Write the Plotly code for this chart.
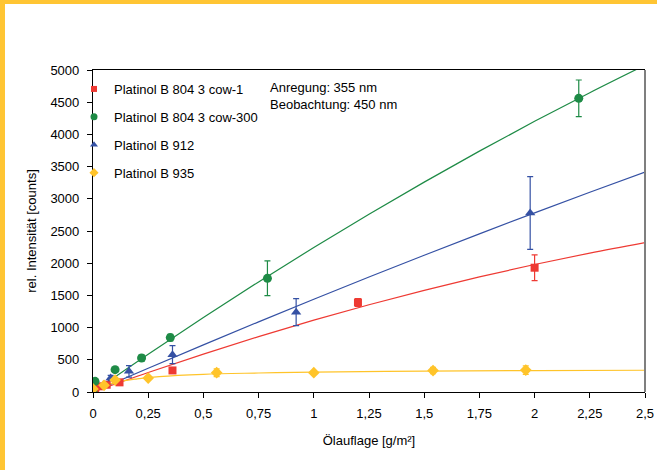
import plotly.graph_objects as go

# ---------------- data ----------------
series_names = ["Platinol B 804 3 cow-1", "Platinol B 804 3 cow-300",
                "Platinol B 912", "Platinol B 935"]

red_x = [0.01, 0.027, 0.062, 0.12, 0.36, 1.2, 2.0]
red_y = [30, 88, 113, 150, 335, 1390, 1930]
red_err = [10, 10, 15, 15, 20, 60, 200]

green_x = [0.0, 0.009, 0.1, 0.22, 0.35, 0.79, 2.2]
green_y = [10, 166, 347, 528, 845, 1765, 4560]
green_err = [10, 15, 25, 45, 50, 270, 285]

blue_x = [0.0, 0.08, 0.163, 0.36, 0.92, 1.98]
blue_y = [5, 217, 321, 580, 1240, 2780]
blue_err = [10, 40, 90, 140, 210, 565]

yellow_x = [0.0, 0.05, 0.1, 0.25, 0.56, 1.0, 1.54, 1.96]
yellow_y = [47, 104, 185, 217, 300, 300, 333, 340]
yellow_err = [10, 10, 15, 15, 60, 25, 50, 65]

# trend curves
fit_x = [0, 0.25, 0.5, 0.75, 1.0, 1.25, 1.5, 1.75, 2.0, 2.25, 2.5]
red_fit = [0, 302, 589, 860, 1115, 1355, 1579, 1787, 1980, 2157, 2319]
green_fit = [0, 588, 1158, 1710, 2244, 2760, 3259, 3740, 4203, 4648, 5075]
blue_fit = [0, 369, 732, 1089, 1440, 1785, 2123, 2456, 2782, 3102, 3416]
yfit_x = [0, 0.05, 0.1, 0.2, 0.3, 0.5, 0.75, 1.0, 1.5, 2.0, 2.5]
yellow_fit = [20, 90, 150, 205, 240, 275, 295, 310, 325, 333, 338]

x_ticks = [0, 0.25, 0.5, 0.75, 1.0, 1.25, 1.5, 1.75, 2.0, 2.25, 2.5]
x_ticktext = ["0", "0,25", "0,5", "0,75", "1", "1,25", "1,5", "1,75", "2", "2,25", "2,5"]
y_ticks = [0, 500, 1000, 1500, 2000, 2500, 3000, 3500, 4000, 4500, 5000]

# ---------------- styles ----------------
RED = "#EE3A33"
GREEN = "#1E8B46"
BLUE = "#3551A4"
YELLOW = "#FFC42A"
FONT = "Liberation Sans, Arial, sans-serif"
FS = 13

W, H = 657, 470
L, R, T, B = 93, 12, 70, 78
PW, PH = W - L - R, H - T - B


def px_x(p):
    return (p - L) / PW


def px_y(p):
    return (H - B - p) / PH


fig = go.Figure()

# trend lines
for fx, fy, col in [(fit_x, green_fit, GREEN), (fit_x, blue_fit, BLUE),
                    (fit_x, red_fit, RED), (yfit_x, yellow_fit, YELLOW)]:
    fig.add_trace(go.Scatter(x=fx, y=fy, mode="lines", line=dict(color=col, width=1.2, shape="spline"),
                             showlegend=False, hoverinfo="skip"))

specs = [
    (red_x, red_y, red_err, RED, "square", 8, 6),
    (green_x, green_y, green_err, GREEN, "circle", 9, 7),
    (blue_x, blue_y, blue_err, BLUE, "triangle-up", 9, 7),
    (yellow_x, yellow_y, yellow_err, YELLOW, "diamond", 9, 7),
]
for i, (xs, ys, es, col, sym, sz, lsz) in enumerate(specs):
    fig.add_trace(go.Scatter(
        x=xs, y=ys, mode="markers", name=series_names[i], showlegend=False,
        marker=dict(color=col, symbol=sym, size=sz, line=dict(width=0)),
        error_y=dict(type="data", array=es, color=col, thickness=1.2, width=3),
    ))
    # legend entry with a smaller symbol
    fig.add_trace(go.Scatter(
        x=[None], y=[None], mode="markers", name=series_names[i], legendgroup=series_names[i],
        marker=dict(color=col, symbol=sym, size=lsz, line=dict(width=0)),
    ))

shapes = [
    # yellow frame strips
    dict(type="rect", xref="paper", yref="paper", x0=px_x(0), x1=px_x(5), y0=px_y(H), y1=px_y(0),
         fillcolor="#FFC533", line=dict(width=0), layer="above"),
    dict(type="rect", xref="paper", yref="paper", x0=px_x(0), x1=px_x(W + 20), y0=px_y(4), y1=px_y(0),
         fillcolor="#FFC533", line=dict(width=0), layer="above"),
    # gray right frame line
    dict(type="line", xref="paper", yref="paper", x0=1, x1=1, y0=0, y1=1,
         line=dict(color="#7F7F7F", width=2), layer="above"),
]

fig.update_layout(
    width=W, height=H, autosize=False,
    margin=dict(l=L, r=R, t=T, b=B, pad=0),
    paper_bgcolor="white", plot_bgcolor="white",
    font=dict(family=FONT, size=FS, color="black"),
    shapes=shapes,
    showlegend=True,
    legend=dict(x=px_x(74), y=px_y(74), xanchor="left", yanchor="top",
                bgcolor="rgba(0,0,0,0)", font=dict(size=FS, family=FONT),
                traceorder="grouped", tracegroupgap=8, itemwidth=30),
    annotations=[
        dict(text="Anregung: 355 nm<br>Beobachtung: 450 nm", xref="paper", yref="paper",
             x=px_x(268), y=px_y(78), xanchor="left", yanchor="top", showarrow=False,
             align="left", font=dict(size=FS, family=FONT)),
    ],
    xaxis=dict(range=[0, 2.5], tickvals=x_ticks, ticktext=x_ticktext,
               showline=True, linecolor="black", linewidth=1.2, mirror=True,
               ticks="outside", ticklen=5, tickcolor="black", showgrid=False, zeroline=False,
               ticklabelstandoff=4, automargin=False, ticklabeloverflow="allow",
               title=dict(text="Ölauflage [g/m²]", font=dict(size=FS), standoff=16),
               tickfont=dict(size=FS)),
    yaxis=dict(range=[0, 5000], tickvals=y_ticks,
               showline=True, linecolor="black", linewidth=1.2,
               ticks="outside", ticklen=5, tickcolor="black", showgrid=False, zeroline=False,
               ticklabelstandoff=5, automargin=False, ticklabeloverflow="allow",
               title=dict(text="rel. Intensität [counts]", font=dict(size=FS), standoff=10),
               tickfont=dict(size=FS)),
)

post = (
    "document.body.style.margin='0';"
    "document.body.style.overflow='hidden';"
    "document.documentElement.style.overflow='hidden';"
)
fig.write_html("out.html", post_script=post,
               config={"displayModeBar": False, "responsive": False})
